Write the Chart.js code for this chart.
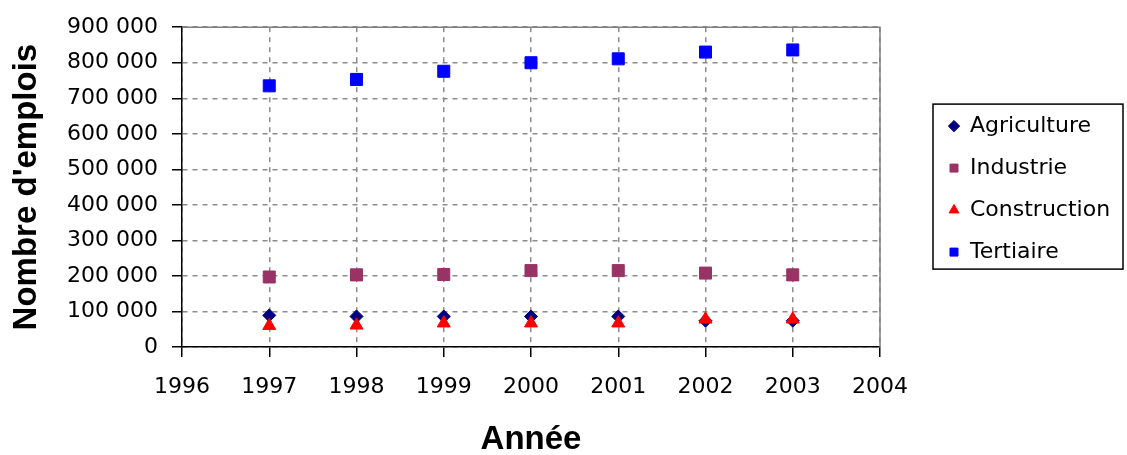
<!DOCTYPE html>
<html>
<head>
<meta charset="utf-8">
<script src="https://cdn.jsdelivr.net/npm/chart.js@4"></script>
<style>
html, body { margin: 0; padding: 0; background: #ffffff; }
#wrap { width: 1127px; height: 455px; }
</style>
</head>
<body>
<div id="wrap"><canvas id="c" width="1127" height="455"></canvas></div>
<script>
// ---- Data ----
const years = [1997, 1998, 1999, 2000, 2001, 2002, 2003];
const agriculture = [89000, 86000, 86000, 86000, 86000, 74000, 74000];
const industrie = [197000, 203000, 204000, 215000, 215000, 208000, 203000];
const construction = [60000, 61000, 67000, 67000, 67000, 78000, 78000];
const tertiaire = [735000, 753000, 776000, 800000, 811000, 830000, 836000];
const seriesNames = ['Agriculture', 'Industrie', 'Construction', 'Tertiaire'];
const xTickLabels = ['1996', '1997', '1998', '1999', '2000', '2001', '2002', '2003', '2004'];
const yTickLabels = ['0', '100 000', '200 000', '300 000', '400 000', '500 000', '600 000', '700 000', '800 000', '900 000'];
const xTitle = 'Année';
const yTitle = "Nombre d'emplois";

// ---- Layout constants ----
const CHART_RIGHT = 880;
const CANVAS_W = 1127;
const LEGEND_W = CANVAS_W - CHART_RIGHT;

const toPoints = (vals) => years.map((x, i) => ({ x: x, y: vals[i] }));

const tickFont = { family: 'DejaVu Sans', size: 22 };

const framePlugin = {
  id: 'frameAndLegendBox',
  beforeLayout(chart) {
    const lg = chart.legend;
    if (lg && !lg._fixedFit) {
      const orig = lg.fit;
      lg.fit = function () { orig.call(this); if (this.options.display) this.width = LEGEND_W; };
      lg._fixedFit = true;
    }
  },
  afterLayout(chart) {
    const lg = chart.legend;
    if (!lg) return;
    lg.left += 49; lg.width -= 49;
    lg.top += 2; lg.bottom += 2;
  },
  afterDraw(chart) {
    const { ctx, chartArea: a, legend: lg } = chart;
    ctx.save();
    ctx.strokeStyle = '#808080';
    ctx.lineWidth = 1.5;
    ctx.setLineDash([]);
    ctx.beginPath();
    ctx.moveTo(a.left, a.top);
    ctx.lineTo(a.right, a.top);
    ctx.lineTo(a.right, a.bottom);
    ctx.stroke();
    if (lg && lg.legendHitBoxes && lg.legendHitBoxes.length) {
      const hb = lg.legendHitBoxes;
      const last = hb[hb.length - 1];
      const x1 = lg.left + 4;
      const x2 = Math.min(lg.right - 4, CANVAS_W - 4);
      const y1 = hb[0].top - 11;
      const y2 = last.top + last.height + 6;
      ctx.strokeStyle = '#000000';
      ctx.lineWidth = 1.5;
      ctx.strokeRect(x1, y1, x2 - x1, y2 - y1);
    }
    ctx.restore();
  }
};

new Chart(document.getElementById('c'), {
  type: 'scatter',
  data: {
    datasets: [
      { label: seriesNames[0], data: toPoints(agriculture), pointStyle: 'rectRot', pointRadius: 6.5,
        backgroundColor: '#000080', borderColor: '#000080', borderWidth: 1, order: 2 },
      { label: seriesNames[1], data: toPoints(industrie), pointStyle: 'rect', pointRadius: 8.5,
        backgroundColor: '#993366', borderColor: '#993366', borderWidth: 1, order: 2 },
      { label: seriesNames[2], data: toPoints(construction), pointStyle: 'triangle', pointRadius: 7.5,
        backgroundColor: '#ff0000', borderColor: '#ff0000', borderWidth: 1, order: 1 },
      { label: seriesNames[3], data: toPoints(tertiaire), pointStyle: 'rect', pointRadius: 8.5,
        backgroundColor: '#0000ff', borderColor: '#0000ff', borderWidth: 1, order: 0 }
    ]
  },
  options: {
    responsive: false,
    animation: false,
    events: [],
    layout: { padding: { top: 25, left: 0, right: 0, bottom: 0 } },
    plugins: {
      legend: {
        position: 'right',
        fullSize: false,
        labels: {
          usePointStyle: true,
          boxWidth: 10,
          boxHeight: 8,
          padding: 20,
          color: '#000000',
          font: { family: 'DejaVu Sans', size: 22 },
          sort: (a, b) => a.datasetIndex - b.datasetIndex
        }
      },
      tooltip: { enabled: false }
    },
    scales: {
      x: {
        type: 'linear',
        position: 'bottom',
        min: 1996,
        max: 2004,
        afterFit: (s) => { s.height = 108; },
        ticks: {
          stepSize: 1,
          padding: 17,
          color: '#000000',
          font: tickFont,
          maxRotation: 0,
          autoSkip: false,
          callback: (v, i) => xTickLabels[i]
        },
        grid: { color: '#8c8c8c', lineWidth: 1.5, tickColor: '#000000', tickLength: 10, tickWidth: 1.5, tickBorderDash: [] },
        border: { display: true, color: '#000000', width: 1.5, dash: [5, 5] },
        title: {
          display: true, text: xTitle, color: '#000000',
          font: { family: 'Liberation Sans', size: 33, weight: 'bold', lineHeight: 0.9 },
          padding: { top: 0, bottom: 0 }
        }
      },
      y: {
        type: 'linear',
        min: 0,
        max: 900000,
        afterFit: (s) => { s.width = 182; },
        ticks: {
          stepSize: 100000,
          padding: 14,
          color: '#000000',
          font: tickFont,
          autoSkip: false,
          callback: (v, i) => yTickLabels[i]
        },
        grid: { color: '#8c8c8c', lineWidth: 1.5, tickColor: '#000000', tickLength: 10, tickWidth: 1.5, tickBorderDash: [] },
        border: { display: true, color: '#000000', width: 1.5, dash: [5, 5] },
        title: {
          display: true, text: yTitle, color: '#000000',
          font: { family: 'Liberation Sans', size: 33, weight: 'bold', lineHeight: 1.2 },
          padding: { top: 7, bottom: 0 }
        }
      }
    }
  },
  plugins: [framePlugin]
});
</script>
</body>
</html>
